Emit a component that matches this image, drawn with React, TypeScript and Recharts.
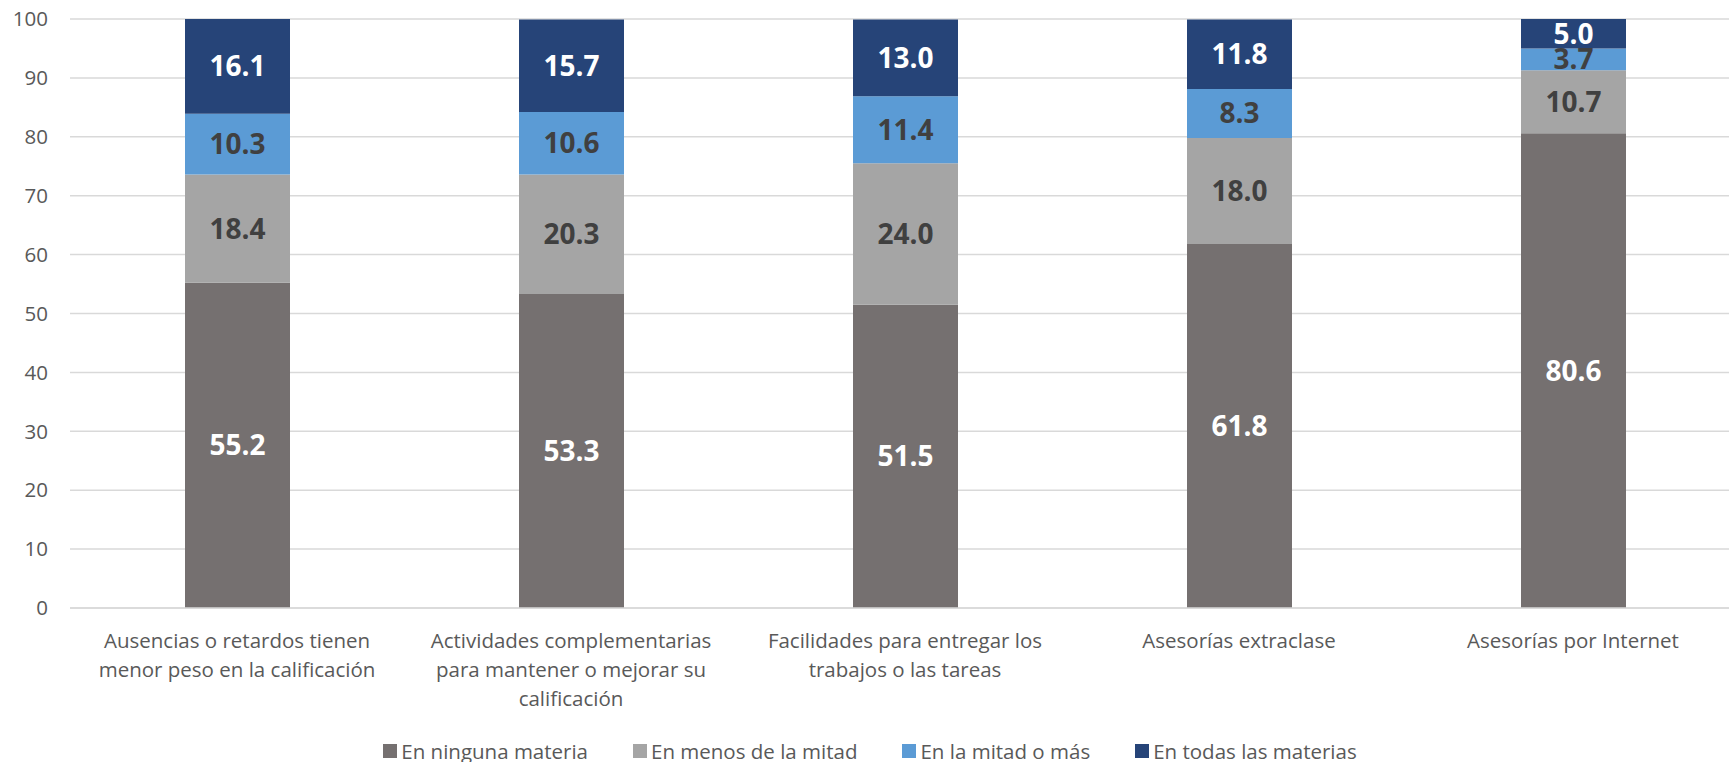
import { BarChart, Bar, XAxis, YAxis, CartesianGrid, Legend, LabelList } from 'recharts';

const categories = [
  'Ausencias o retardos tienen\nmenor peso en la calificación',
  'Actividades complementarias\npara mantener o mejorar su\ncalificación',
  'Facilidades para entregar los\ntrabajos o las tareas',
  'Asesorías extraclase',
  'Asesorías por Internet',
];

const enNinguna = [55.2, 53.3, 51.5, 61.8, 80.6];
const enMenos = [18.4, 20.3, 24.0, 18.0, 10.7];
const enMitad = [10.3, 10.6, 11.4, 8.3, 3.7];
const enTodas = [16.1, 15.7, 13.0, 11.8, 5.0];

const yTicks = [0, 10, 20, 30, 40, 50, 60, 70, 80, 90, 100];

// series order = stacking order (bottom to top) = legend order
const series = [
  { key: 'ninguna', name: 'En ninguna materia', color: '#757070', labelColor: '#FFFFFF' },
  { key: 'menos', name: 'En menos de la mitad', color: '#A5A5A5', labelColor: '#404040' },
  { key: 'mitad', name: 'En la mitad o más', color: '#5B9BD5', labelColor: '#404040' },
  { key: 'todas', name: 'En todas las materias', color: '#264478', labelColor: '#FFFFFF' },
];

const FONT = '"Open Sans", "Noto Sans", sans-serif';
const TEXT = '#595959';

const data = categories.map((name, i) => ({
  name,
  ninguna: enNinguna[i],
  menos: enMenos[i],
  mitad: enMitad[i],
  todas: enTodas[i],
}));

const fmt = (v: number) => Number(v).toFixed(1);

function CategoryTick({ x, y, payload }: any) {
  const lines = String(payload.value).split('\n');
  return (
    <text x={x} y={y} textAnchor="middle" fill={TEXT} fontSize={20.5} fontFamily={FONT}>
      {lines.map((line, i) => (
        <tspan key={i} x={x} dy={i === 0 ? 40 : 29}>
          {line}
        </tspan>
      ))}
    </text>
  );
}

function LegendContent() {
  return (
    <div
      style={{
        height: 28,
        boxSizing: 'border-box',
        paddingTop: 5,
        display: 'flex',
        justifyContent: 'center',
        alignItems: 'center',
        gap: 45,
        fontFamily: FONT,
        fontSize: 20.5,
        lineHeight: '20px',
        color: TEXT,
      }}
    >
      {series.map((s) => (
        <div key={s.key} style={{ display: 'flex', alignItems: 'center', height: 20 }}>
          <span style={{ width: 14, height: 14, background: s.color, marginRight: 4, display: 'inline-block' }} />
          {s.name}
        </div>
      ))}
    </div>
  );
}

export default function App() {
  const labelStyle = { fontFamily: FONT, fontSize: 28, fontWeight: 700 };
  return (
    <div style={{ position: 'absolute', left: 0, top: 0, width: 1729, height: 762, overflow: 'hidden', background: '#fff' }}>
      <BarChart
        width={1760}
        height={762}
        data={data}
        margin={{ top: 19, right: 20, left: 0, bottom: 0 }}
        barSize={105}
      >
        <CartesianGrid vertical={false} stroke="#D9D9D9" strokeWidth={1.5} />
        <XAxis
          dataKey="name"
          axisLine={{ stroke: '#D9D9D9', strokeWidth: 1.5 }}
          tickLine={false}
          tickSize={0}
          tickMargin={0}
          height={126}
          interval={0}
          tick={<CategoryTick />}
        />
        <YAxis
          width={70}
          domain={[0, 100]}
          ticks={yTicks}
          axisLine={false}
          tickLine={false}
          tickSize={0}
          tickMargin={22}
          tick={{ fill: TEXT, fontSize: 20.5, fontFamily: FONT }}
        />
        <Legend verticalAlign="bottom" content={<LegendContent />} />
        {series.map((s) => (
          <Bar key={s.key} dataKey={s.key} name={s.name} stackId="a" fill={s.color} isAnimationActive={false}>
            <LabelList dataKey={s.key} position="center" formatter={fmt} fill={s.labelColor} style={labelStyle} />
          </Bar>
        ))}
      </BarChart>
    </div>
  );
}
